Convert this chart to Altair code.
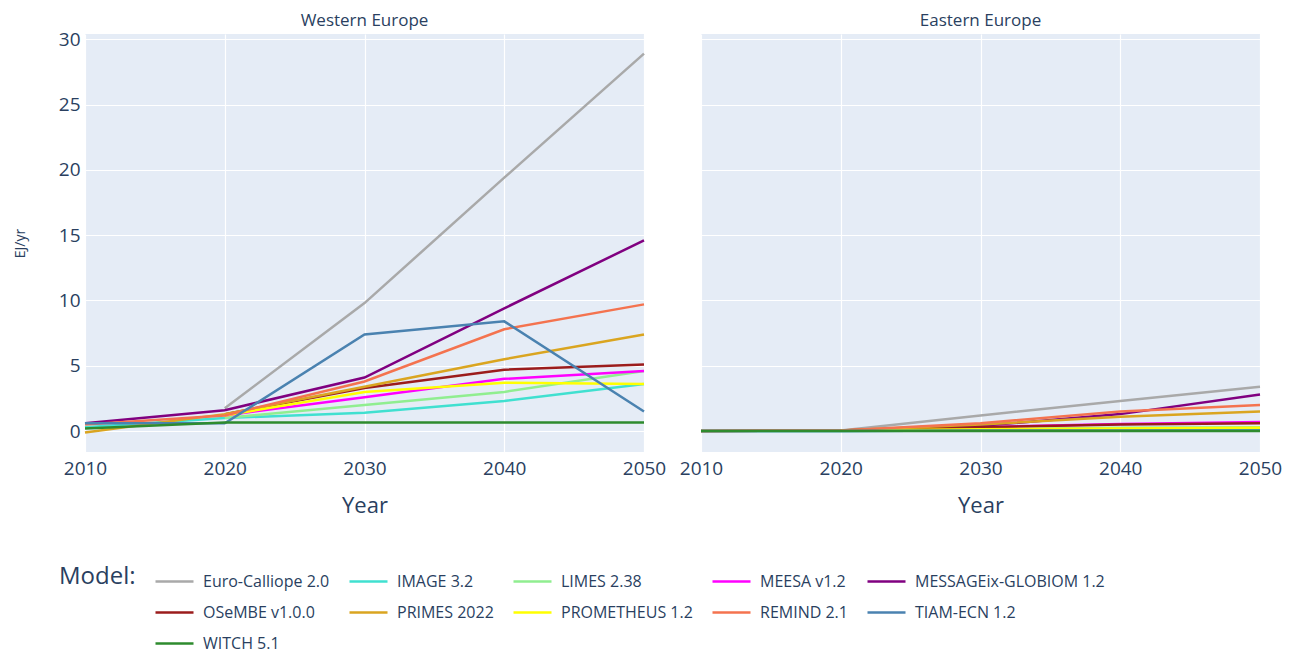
import altair as alt
import pandas as pd

years = [2010, 2020, 2030, 2040, 2050]
models = ["Euro-Calliope 2.0", "IMAGE 3.2", "LIMES 2.38", "MEESA v1.2",
          "MESSAGEix-GLOBIOM 1.2", "OSeMBE v1.0.0", "PRIMES 2022",
          "PROMETHEUS 1.2", "REMIND 2.1", "TIAM-ECN 1.2", "WITCH 5.1"]
colors = ["#A9A9A9", "#40E0D0", "#90EE90", "#FF00FF", "#800080", "#9B1C1C",
          "#DAA520", "#FFFF00", "#F4734F", "#4A82B0", "#2E8B2E"]

west = {
    "Euro-Calliope 2.0": [None, 1.75, 9.8, 19.4, 28.9],
    "IMAGE 3.2": [0.3, 1.0, 1.4, 2.3, 3.6],
    "LIMES 2.38": [None, 1.0, 2.0, 3.0, 4.6],
    "MEESA v1.2": [None, 1.2, 2.6, 4.0, 4.6],
    "MESSAGEix-GLOBIOM 1.2": [0.6, 1.6, 4.1, 9.4, 14.6],
    "OSeMBE v1.0.0": [None, 1.3, 3.3, 4.7, 5.1],
    "PRIMES 2022": [-0.1, 1.3, 3.4, 5.5, 7.4],
    "PROMETHEUS 1.2": [None, 1.2, 3.0, 3.7, 3.6],
    "REMIND 2.1": [0.5, 1.2, 3.8, 7.8, 9.7],
    "TIAM-ECN 1.2": [0.6, 0.6, 7.4, 8.4, 1.5],
    "WITCH 5.1": [0.2, 0.65, 0.65, 0.65, 0.65],
}
east = {
    "Euro-Calliope 2.0": [None, 0.05, 1.2, 2.3, 3.4],
    "IMAGE 3.2": [0.0, 0.0, 0.05, 0.1, 0.1],
    "LIMES 2.38": [None, 0.05, 0.15, 0.25, 0.3],
    "MEESA v1.2": [None, 0.05, 0.3, 0.55, 0.7],
    "MESSAGEix-GLOBIOM 1.2": [0.0, 0.05, 0.4, 1.3, 2.8],
    "OSeMBE v1.0.0": [None, 0.05, 0.3, 0.5, 0.6],
    "PRIMES 2022": [0.0, 0.05, 0.5, 1.1, 1.5],
    "PROMETHEUS 1.2": [None, 0.05, 0.15, 0.2, 0.25],
    "REMIND 2.1": [0.0, 0.05, 0.6, 1.5, 2.0],
    "TIAM-ECN 1.2": [0.0, 0.0, 0.05, 0.05, 0.05],
    "WITCH 5.1": [0.0, 0.0, 0.0, 0.0, 0.0],
}

rows = []
for region, table in [("Western Europe", west), ("Eastern Europe", east)]:
    for m in models:
        for y, v in zip(years, table[m]):
            if v is not None:
                rows.append({"Region": region, "Model": m, "Year": y, "Value": v})
df = pd.DataFrame(rows)

font = "Open Sans"
fc = "#2a3f5f"

base = alt.Chart(df).mark_line(strokeWidth=2.5).encode(
    x=alt.X("Year:Q", title="Year",
            scale=alt.Scale(domain=[2010, 2050], nice=False),
            axis=alt.Axis(values=years, format="d", labelFontSize=19,
                          titleFontSize=22, titleFontWeight="normal",
                          labelFlush=False, titlePadding=17, labelPadding=7,
                          tickSize=0)),
    y=alt.Y("Value:Q", title="EJ/yr",
            scale=alt.Scale(domain=[-1.6, 30.4], nice=False, zero=False),
            axis=alt.Axis(values=[0, 5, 10, 15, 20, 25, 30], labelFontSize=19,
                          titleFontSize=14, titleFontWeight="normal",
                          titlePadding=31, labelPadding=0, tickSize=0)),
    color=alt.Color("Model:N", title="Model:",
                    scale=alt.Scale(domain=models, range=colors),
                    legend=alt.Legend(orient="none", legendX=-26, legendY=527,
                                      direction="horizontal", columns=5,
                                      gridAlign="none", titleOrient="left",
                                      titleAnchor="start", titleBaseline="line-top",
                                      titleLineHeight=32,
                                      symbolType="stroke", symbolSize=1444,
                                      symbolStrokeWidth=2.5, labelFontSize=16,
                                      labelLimit=500,
                                      titleFontSize=24, titleFontWeight="normal",
                                      titlePadding=18, columnPadding=14,
                                      rowPadding=2, labelOffset=8)),
    detail="Model:N",
).properties(width=559, height=418)

chart = base.facet(
    column=alt.Column("Region:N", sort=["Western Europe", "Eastern Europe"],
                      title=None,
                      header=alt.Header(labelFontSize=17, labelColor=fc,
                                        labelFont=font, labelPadding=4))
).properties(
    spacing=47, background="white",
    padding={"left": 5, "top": 4, "right": 0, "bottom": 0}
).configure_view(
    fill="#E5ECF6", stroke=None
).configure_axis(
    grid=True, gridColor="white", gridWidth=1.2, domain=False, ticks=False,
    labelColor=fc, titleColor=fc, labelFont=font, titleFont=font
).configure_legend(
    labelColor=fc, titleColor=fc, labelFont=font, titleFont=font
)

chart.save("out.html", embed_options={"renderer": "svg", "actions": False})
